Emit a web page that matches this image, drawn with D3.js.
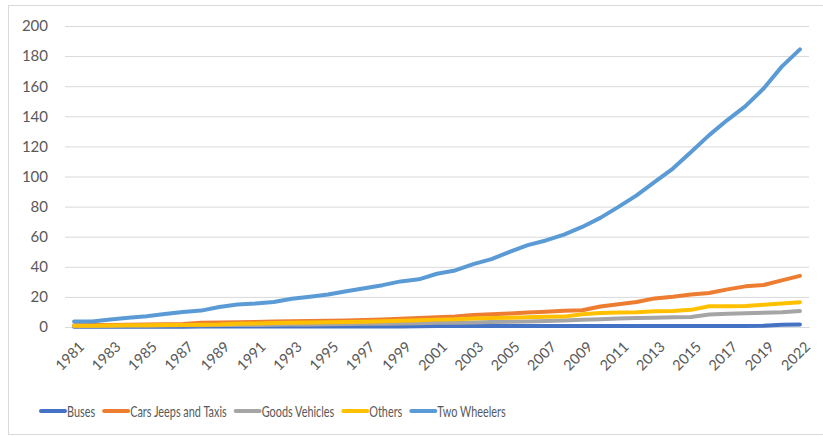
<!DOCTYPE html>
<html lang="en">
  <head>
    <meta charset="UTF-8" />
    <title>Registered vehicles</title>
    <script src="https://cdn.jsdelivr.net/npm/d3@7"></script>
    <style>
      body { margin: 0; background: #fff; }
      text { font-family: Lato, "Open Sans", sans-serif; fill: #595959; }
    </style>
  </head>
  <body>
    <script>
      const years = ["1981","1982","1983","1984","1985","1986","1987","1988","1989","1990",
        "1991","1992","1993","1994","1995","1996","1997","1998","1999","2000",
        "2001","2002","2003","2004","2005","2006","2007","2008","2009","2010",
        "2011","2012","2013","2014","2015","2016","2017","2018","2019","2020","2022"];

      const buses = [0.2,0.2,0.2,0.2,0.2,0.2,0.2,0.3,0.3,0.3,
        0.3,0.3,0.3,0.3,0.3,0.3,0.3,0.3,0.4,0.5,
        0.7,0.7,0.7,0.7,0.7,0.7,0.7,0.7,0.7,0.7,
        0.7,0.7,0.7,0.7,0.7,0.7,0.7,0.7,0.8,1.5,1.7];
      const cars = [1.2,1.3,1.4,1.5,1.6,1.8,2.0,2.9,3.0,3.2,
        3.3,3.6,3.8,4.0,4.1,4.3,4.7,5.0,5.4,6.0,
        6.5,7.0,8.0,8.4,8.9,9.6,10.2,10.8,11.1,13.6,
        15.1,16.6,19.0,20.1,21.6,22.6,25.0,27.0,27.9,31.0,34.0];
      const goods = [0.5,0.6,0.7,0.8,0.9,1.0,1.1,1.2,1.3,1.4,
        1.4,1.5,1.6,1.7,1.8,2.0,2.1,2.2,2.3,2.5,
        2.8,2.9,3.0,3.3,3.5,3.7,4.0,4.4,4.8,5.2,
        5.7,6.0,6.2,6.5,6.7,8.3,8.8,9.1,9.4,9.8,10.6];
      const others = [0.8,0.9,1.0,1.1,1.2,1.3,1.4,1.5,1.7,2.2,
        2.4,2.6,2.8,3.0,3.1,3.3,3.5,3.8,4.1,4.5,
        4.9,5.2,5.7,5.9,6.2,6.5,6.8,6.9,8.5,9.3,
        9.6,9.8,10.5,10.6,11.4,13.8,13.8,14.0,14.8,15.6,16.5];
      const twoWheelers = [3.6,3.6,5.0,6.2,7.1,8.6,9.9,10.9,13.3,14.9,
        15.6,16.6,18.8,20.1,21.6,23.8,25.7,27.8,30.3,31.7,
        35.4,37.6,41.8,45.1,49.9,54.4,57.5,61.4,66.5,72.5,
        79.8,87.5,96.4,105.3,116.3,127.5,137.5,146.8,158.5,173.0,184.5];

      const seriesNames = ["Buses", "Cars Jeeps and Taxis", "Goods Vehicles", "Others", "Two Wheelers"];
      const seriesValues = [buses, cars, goods, others, twoWheelers];
      const colors = ["#4472C4", "#ED7D31", "#A5A5A5", "#FFC000", "#5B9BD5"];
      const yTicks = [0, 20, 40, 60, 80, 100, 120, 140, 160, 180, 200];

      const width = 823, height = 437;
      const plot = { left: 65, right: 809, top: 26, bottom: 327 };

      const svg = d3.select("body").append("svg")
        .attr("width", width)
        .attr("height", height);

      // chart frame
      svg.append("rect")
        .attr("x", 8.5).attr("y", 5.5)
        .attr("width", 820).attr("height", 429)
        .attr("fill", "none")
        .attr("stroke", "#d9d9d9");

      const x = d3.scalePoint()
        .domain(years)
        .range([plot.left, plot.right])
        .padding(0.5);

      const y = d3.scaleLinear()
        .domain([0, 200])
        .range([plot.bottom, plot.top]);

      // gridlines + y labels
      const yAxis = svg.append("g")
        .attr("transform", `translate(${plot.left},0)`)
        .call(d3.axisLeft(y).tickValues(yTicks)
          .tickSize(-(plot.right - plot.left)).tickPadding(17));
      yAxis.select(".domain").remove();
      yAxis.selectAll(".tick line").attr("stroke", "#d9d9d9").attr("stroke-width", 1);
      yAxis.selectAll(".tick text")
        .attr("font-size", 15)
        .attr("font-family", "Lato, sans-serif")
        .attr("fill", "#595959");

      // x axis
      const xAxis = svg.append("g")
        .attr("transform", `translate(0,${plot.bottom})`)
        .call(d3.axisBottom(x).tickValues(years.filter((d, i) => i % 2 === 0)).tickSize(0));
      xAxis.select(".domain")
        .attr("stroke", "#d9d9d9");
      xAxis.selectAll(".tick text")
        .attr("font-size", 14.5)
        .attr("font-family", "Lato, sans-serif")
        .attr("fill", "#595959")
        .attr("text-anchor", "end")
        .attr("dy", "0.35em")
        .attr("transform", "translate(5,15) rotate(-45)");

      // lines
      const line = d3.line()
        .x((d, i) => x(years[i]))
        .y(d => y(d));

      svg.append("g").selectAll("path")
        .data(seriesValues)
        .enter()
        .append("path")
        .attr("d", d => line(d))
        .attr("fill", "none")
        .attr("stroke", (d, i) => colors[i])
        .attr("stroke-width", 4)
        .attr("stroke-linejoin", "round")
        .attr("stroke-linecap", "round");

      // legend, Excel-like narrow text
      const legend = svg.append("g").attr("transform", "translate(40,411)");
      let lx = 0;
      seriesNames.forEach((name, i) => {
        const item = legend.append("g").attr("transform", `translate(${lx},0)`);
        item.append("line")
          .attr("x1", 1).attr("x2", 25)
          .attr("y1", 0).attr("y2", 0)
          .attr("stroke", colors[i])
          .attr("stroke-width", 4)
          .attr("stroke-linecap", "round");
        const t = item.append("text")
          .attr("x", 0).attr("y", 0)
          .attr("dy", "0.35em")
          .attr("font-size", 16)
          .attr("transform", "translate(27,0) scale(0.68,1)")
          .text(name);
        const w = t.node().getComputedTextLength() * 0.68;
        lx += 27 + w + 8;
      });
    </script>
  </body>
</html>
